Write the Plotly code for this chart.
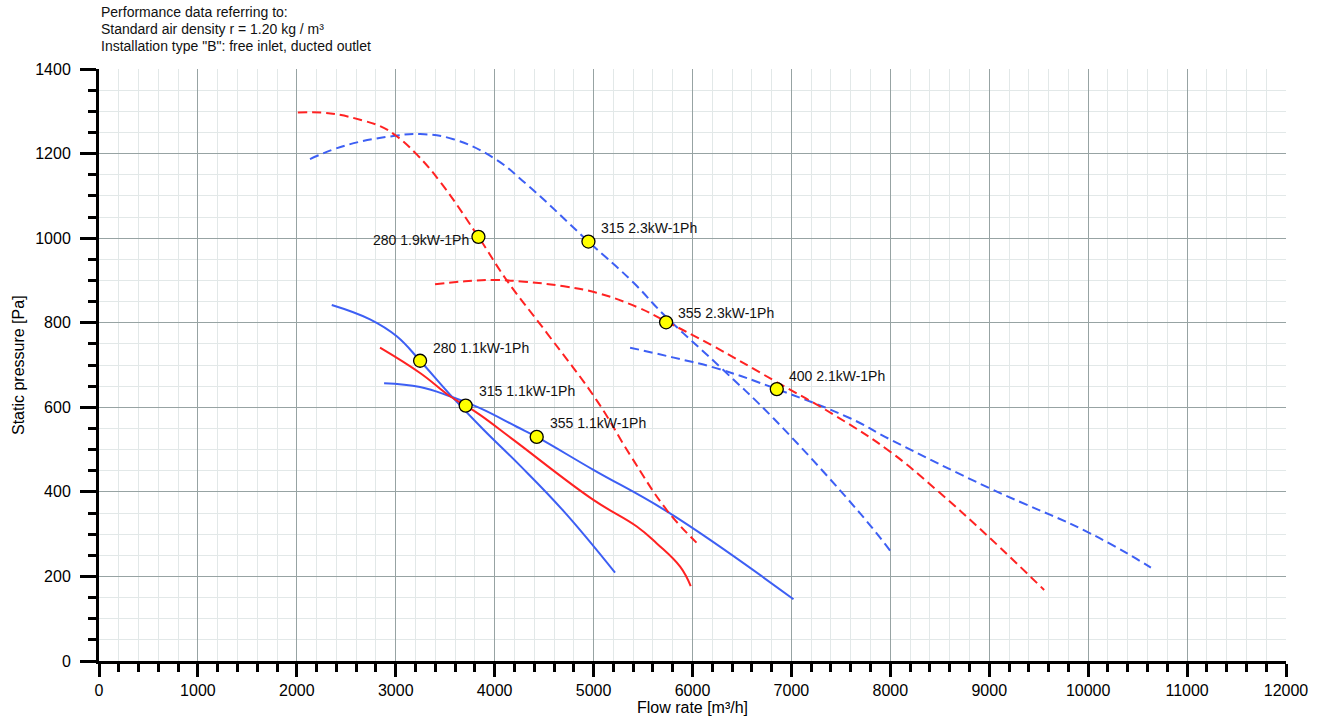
import plotly.graph_objects as go

# ---------------- data ----------------
# Flow rate [m3/h] / static pressure [Pa] for each fan curve
q_280_19 = [2010, 2340, 2670, 2840, 2993, 3212, 3450, 3836, 4120, 4530, 5030, 5370, 5740, 6040]
p_280_19 = [1297, 1295, 1278, 1265, 1244, 1198, 1133, 1003, 901, 775, 617, 487, 357, 280]

q_315_23 = [2133, 2504, 2993, 3246, 3583, 3987, 4325, 4948, 5402, 5706, 6312, 6818, 7695, 7998]
p_315_23 = [1187, 1220, 1242, 1246, 1234, 1190, 1127, 992, 895, 820, 688, 574, 349, 261]

q_355_23 = [3397, 3700, 3987, 4300, 4700, 5030, 5450, 5733, 6200, 6818, 7459, 7998, 8470, 8992, 9555]
p_355_23 = [891, 898, 901, 897, 886, 871, 836, 803, 746, 664, 578, 495, 404, 294, 168]

q_400_21 = [5369, 5800, 6246, 6852, 7594, 7998, 9009, 10020, 10634]
p_400_21 = [741, 718, 692, 643, 574, 524, 408, 302, 221]

q_280_11 = [2353, 2740, 3010, 3246, 3549, 3883, 4257, 4695, 5217]
p_280_11 = [842, 808, 768, 710, 630, 548, 462, 355, 209]

q_315_11 = [2841, 3246, 3549, 3707, 3852, 4190, 4998, 5437, 5639, 5875, 5982]
p_315_11 = [741, 681, 626, 604, 582, 523, 381, 318, 278, 223, 177]

q_355_11 = [2882, 3246, 3549, 3852, 4223, 4425, 4998, 5773, 7021]
p_355_11 = [657, 648, 626, 598, 554, 530, 452, 349, 146]

# operating points
point_names = ["280 1.9kW-1Ph", "315 2.3kW-1Ph", "355 2.3kW-1Ph", "400 2.1kW-1Ph",
               "280 1.1kW-1Ph", "315 1.1kW-1Ph", "355 1.1kW-1Ph"]
point_q = [3836, 4948, 5733, 6852, 3246, 3707, 4425]
point_p = [1003, 992, 801, 643, 710, 604, 530]

x_ticks = list(range(0, 12001, 1000))
y_ticks = list(range(0, 1401, 200))

note_lines = ["Performance data referring to:",
              "Standard air density r = 1.20 kg / m³",
              "Installation type \"B\": free inlet, ducted outlet"]

# ---------------- styling ----------------
RED = "#ff2222"
BLUE = "#3d5ff4"
FONT = "Liberation Sans, Arial, sans-serif"
DASH = "9px,5px"

fig = go.Figure()

curves = [
    (q_280_11, p_280_11, BLUE, "solid"),
    (q_355_11, p_355_11, BLUE, "solid"),
    (q_315_23, p_315_23, BLUE, DASH),
    (q_400_21, p_400_21, BLUE, DASH),
    (q_315_11, p_315_11, RED, "solid"),
    (q_280_19, p_280_19, RED, DASH),
    (q_355_23, p_355_23, RED, DASH),
]
for qs, ps, col, dash in curves:
    fig.add_trace(go.Scatter(
        x=qs, y=ps, mode="lines",
        line=dict(color=col, width=2, dash=dash, shape="spline", smoothing=1.2),
        hoverinfo="skip", showlegend=False))

fig.add_trace(go.Scatter(
    x=point_q, y=point_p, mode="markers",
    marker=dict(size=13, color="#ffff00", line=dict(color="black", width=1.3)),
    text=point_names, hoverinfo="text", showlegend=False))

# label placement (pixel offsets from the marker)
label_offsets = {
    "280 1.9kW-1Ph": ("right", -7, -3),
    "315 2.3kW-1Ph": ("left", 11, 14),
    "355 2.3kW-1Ph": ("left", 10, 9),
    "400 2.1kW-1Ph": ("left", 10, 13),
    "280 1.1kW-1Ph": ("left", 11, 13),
    "315 1.1kW-1Ph": ("left", 11, 15),
    "355 1.1kW-1Ph": ("left", 11, 14),
}
for name, q, p in zip(point_names, point_q, point_p):
    anchor, dx, dy = label_offsets[name]
    fig.add_annotation(x=q, y=p, text=name, showarrow=False,
                       xanchor=anchor, yanchor="middle", xshift=dx, yshift=dy,
                       font=dict(family=FONT, size=14, color="#111111"))

note_y = [1.0963, 1.0676, 1.0389]
for line, yy in zip(note_lines, note_y):
    fig.add_annotation(xref="paper", yref="paper", x=0.0, y=yy, text=line,
                       showarrow=False, xanchor="left", yanchor="middle",
                       font=dict(family=FONT, size=14, color="#111111"))

# y-axis title placed as a rotated annotation
fig.add_annotation(xref="paper", yref="paper", x=-0.0682, y=0.5,
                   text="Static pressure [Pa]", textangle=-90, showarrow=False,
                   xanchor="center", yanchor="middle",
                   font=dict(family=FONT, size=16, color="black"))

MAJOR_GRID = "#97a3a3"
MINOR_GRID = "#e2e8e8"

fig.update_layout(
    width=1328, height=720,
    margin=dict(l=99, r=42, t=69, b=59, autoexpand=False),
    paper_bgcolor="white", plot_bgcolor="white",
    font=dict(family=FONT, size=16, color="black"),
    xaxis=dict(
        range=[0, 12000], tickvals=x_ticks, ticktext=[str(v) for v in x_ticks],
        automargin=False,
        showgrid=True, gridcolor=MAJOR_GRID, gridwidth=1, zeroline=False,
        showline=True, linecolor="black", linewidth=3,
        ticks="outside", ticklen=13, tickwidth=2.5, tickcolor="black",
        tickfont=dict(size=16, family=FONT, color="black"),
        minor=dict(dtick=200, tick0=0, ticks="outside", ticklen=8, tickwidth=2.5,
                   tickcolor="black", showgrid=True, gridcolor=MINOR_GRID, gridwidth=1),
        title=dict(text="Flow rate [m³/h]", font=dict(size=16, family=FONT), standoff=3),
        layer="below traces",
    ),
    yaxis=dict(
        range=[0, 1400], tickvals=y_ticks, ticktext=[str(v) for v in y_ticks],
        automargin=False,
        showgrid=True, gridcolor=MAJOR_GRID, gridwidth=1, zeroline=False,
        showline=True, linecolor="black", linewidth=3,
        ticks="outside", ticklen=16, tickwidth=2.5, tickcolor="black",
        ticklabelstandoff=6,
        tickfont=dict(size=16, family=FONT, color="black"),
        minor=dict(dtick=50, tick0=0, ticks="outside", ticklen=8, tickwidth=2.5,
                   tickcolor="black", showgrid=True, gridcolor=MINOR_GRID, gridwidth=1),
        layer="below traces",
    ),
)

# remove the default 8 px page margin so the figure fills the window exactly
fig.write_html("out.html",
               config={"displayModeBar": False},
               post_script="document.body.style.margin='0px';document.body.style.overflow='hidden';")
